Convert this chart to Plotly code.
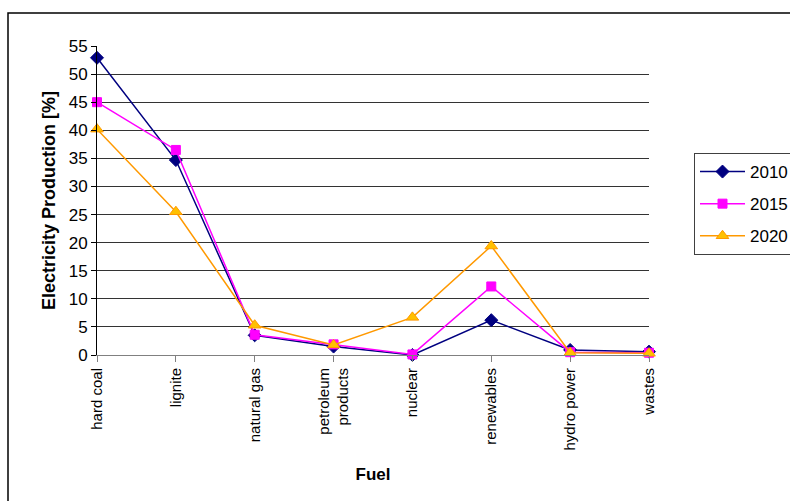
import plotly.graph_objects as go

fuels = ["hard coal", "lignite", "natural gas", "petroleum<br>products", "nuclear",
         "renewables", "hydro power", "wastes"]
years = ["2010", "2015", "2020"]
share_2010 = [52.9, 34.7, 3.5, 1.5, 0.0, 6.2, 0.9, 0.6]
share_2015 = [45.0, 36.5, 3.6, 1.9, 0.1, 12.2, 0.5, 0.4]
share_2020 = [40.2, 25.5, 5.3, 1.8, 6.7, 19.4, 0.4, 0.3]
y_ticks = list(range(0, 60, 5))

x_pos = list(range(len(fuels)))

styles = [
    dict(line="#000080", fill="#000080", edge="#000080", symbol="diamond", size=10),
    dict(line="#FF00FF", fill="#FF00FF", edge="#FF00FF", symbol="square", size=9),
    dict(line="#FF9900", fill="#FFC000", edge="#FF9900", symbol="triangle-up", size=11),
]

fig = go.Figure()
for name, vals, st in zip(years, [share_2010, share_2015, share_2020], styles):
    fig.add_trace(go.Scatter(
        x=x_pos, y=vals, name=name, mode="lines+markers", legendgroup=name,
        line=dict(color=st["line"], width=1.5),
        marker=dict(symbol=st["symbol"], size=st["size"], color=st["fill"],
                    line=dict(color=st["edge"], width=1)),
        cliponaxis=False,
    ))

font = "Liberation Sans, Arial, sans-serif"

fig.update_layout(
    width=790, height=501,
    margin=dict(l=97, r=141, t=46, b=146, autoexpand=False),
    paper_bgcolor="white", plot_bgcolor="white",
    font=dict(family=font, color="black", size=16),
    showlegend=True,
    legend=dict(
        x=(694 - 97) / 552, y=(355 - 153) / 309, xanchor="left", yanchor="top",
        bordercolor="#404040", borderwidth=1, bgcolor="white",
        font=dict(size=17, family=font), tracegroupgap=7,
        itemwidth=45,
    ),
    xaxis=dict(
        range=[0, len(fuels) - 1], tickvals=x_pos, ticktext=fuels,
        tickangle=-90, tickfont=dict(size=15, family=font),
        showgrid=False, zeroline=False,
        showline=True, linecolor="#808080", linewidth=1,
        ticks="outside", ticklen=6, tickcolor="#808080",
        title=dict(text="<b>Fuel</b>", font=dict(size=17, family=font), standoff=18),
    ),
    yaxis=dict(
        range=[0, 55], tickvals=y_ticks,
        tickfont=dict(size=17, family=font),
        showgrid=True, gridcolor="#333333", gridwidth=1,
        zeroline=False,
        showline=True, linecolor="black", linewidth=1,
        ticks="outside", ticklen=5, tickcolor="black",
        title=dict(text="<b>Electricity Production [%]</b>",
                   font=dict(size=18, family=font), standoff=8),
    ),
    shapes=[dict(
        type="rect", xref="paper", yref="paper",
        x0=(8 - 97) / 552, x1=1.5, y0=-0.7, y1=1 + (46 - 13) / 309,
        line=dict(color="black", width=1.5), fillcolor="rgba(0,0,0,0)", layer="below",
    )],
)

fig.write_html("out.html")
